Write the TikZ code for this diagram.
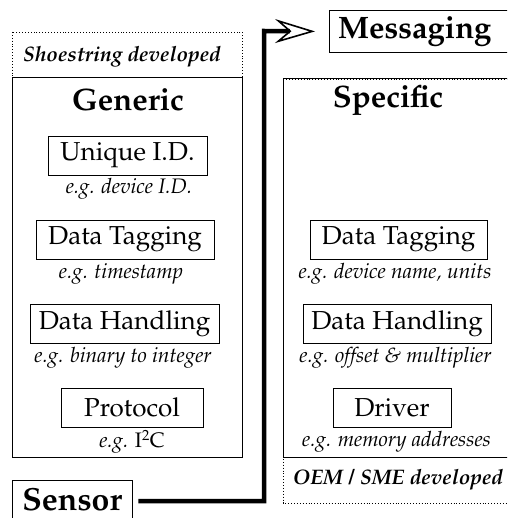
\documentclass[tikz,border=0pt]{standalone}
\IfFileExists{t1ppl.fd}{\usepackage[T1]{fontenc}\renewcommand{\rmdefault}{ppl}}{\usepackage{fontspec}\setmainfont{Liberation Serif}}
\usetikzlibrary{arrows.meta}
\begin{document}
\begin{tikzpicture}[x=1pt,y=-1pt,
  lbox/.style={draw, line width=0.8pt, minimum height=39pt, inner sep=0pt, font=\fontsize{26}{30}\selectfont},
  eg/.style={inner sep=0pt, font=\fontsize{21}{24}\selectfont\itshape},
  bigtitle/.style={inner sep=0pt, font=\fontsize{31}{36}\selectfont\bfseries},
  devby/.style={inner sep=0pt, font=\fontsize{21}{24}\selectfont\bfseries\itshape},
  solidframe/.style={draw, line width=1pt},
  dotframe/.style={draw, dotted, line width=0.9pt},
  conn/.style={line width=4.5pt, -{Stealth[open, length=40pt, width=24pt, inset=14pt, line width'=1.6pt]}}
]
\useasboundingbox (0,0) rectangle (507,518);
\clip (0,0) rectangle (507,518);

% left column frames
\draw[dotframe] (12,32) rectangle (242,457);
\draw[solidframe] (12,78) rectangle (242,457);
% right column frames
\draw[dotframe] (283,79) rectangle (515,503);
\draw[solidframe] (283,79) rectangle (515,457);

\node[devby] (shoe) at (122,57) {Shoestring developed};
\node[bigtitle] (generic) at (128,100) {Generic};
\node[bigtitle] (specific) at (388,100) {Specific};
\node[devby] (oem) at (398,480) {OEM / SME developed};

% left column
\node[lbox, minimum width=159pt] (uid) at (127.5,155.5) {Unique I.D.};
\node[eg] (uideg) at (129,189) {e.g. device I.D.};
\node[lbox, minimum width=178pt] (tagL) at (125,239.5) {Data Tagging};
\node[eg] (tagLeg) at (121,274) {e.g. timestamp};
\node[lbox, minimum width=189pt] (handL) at (124.5,323.5) {Data Handling};
\node[eg] (handLeg) at (123,358) {e.g. binary to integer};
\node[lbox, minimum width=142pt] (proto) at (132,407.5) {Protocol};
\node[eg] (protoeg) at (132,442) {e.g. \upshape I\textsuperscript{2}C};

% right column
\node[lbox, minimum width=177pt] (tagR) at (398.5,239.5) {Data Tagging};
\node[eg] (tagReg) at (395,274) {e.g. device name, units};
\node[lbox, minimum width=188pt] (handR) at (397,323.5) {Data Handling};
\node[eg] (handReg) at (395.5,358) {e.g. offset \& multiplier};
\node[lbox, minimum width=118pt] (driver) at (392,407.5) {Driver};
\node[eg] (drivereg) at (396.5,442) {e.g. memory addresses};

% messaging and sensor
\node[draw, line width=0.8pt, anchor=north west, minimum width=195pt, minimum height=42pt, inner sep=0pt] (msg) at (329,10) {};
\node[bigtitle, anchor=west] (msgtext) at ([xshift=9pt]msg.west) {Messaging};
\node[anchor=north west, minimum width=120pt, minimum height=37pt, inner sep=0pt, font=\fontsize{32}{36}\selectfont\bfseries] (sensor) at (12,480.5) {Sensor};
\draw[line width=0.8pt] ([yshift=-8pt]sensor.south west) |- (sensor.north east) -- ([yshift=-8pt]sensor.south east);

\coordinate (bend) at (264,31);
\draw[conn] ([xshift=6pt,yshift=-2pt]sensor.east) -| (bend) -- ([xshift=-14pt]msg.west);
\end{tikzpicture}
\end{document}
